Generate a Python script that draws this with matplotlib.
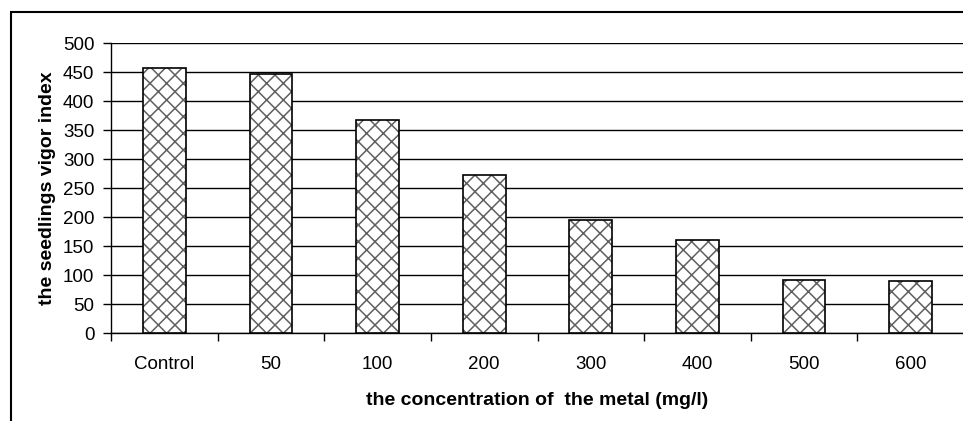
import matplotlib
matplotlib.use("Agg")
import matplotlib.pyplot as plt
from matplotlib.patches import Rectangle
import numpy as np

categories = ["Control", "50", "100", "200", "300", "400", "500", "600"]
values = [457, 446, 367, 272, 195, 161, 92, 90]
yticks = [0, 50, 100, 150, 200, 250, 300, 350, 400, 450, 500]

plt.rcParams['font.family'] = ['Liberation Sans', 'DejaVu Sans']
plt.rcParams['hatch.linewidth'] = 1.1

W, H = 963, 421
fig = plt.figure(figsize=(W / 100, H / 100), dpi=100)
ax = fig.add_axes([111 / W, 1 - 333.3 / H, (964 - 111) / W, (333.3 - 43) / H])

x = np.arange(len(categories))
# hatch layer
ax.bar(x, values, width=0.4, color='white', edgecolor='#606060', hatch='xx',
       linewidth=0, zorder=3)
# outline layer
ax.bar(x, values, width=0.4, fill=False, edgecolor='black', linewidth=1.2, zorder=4)

ax.set_xlim(-0.5, len(categories) - 0.5)
ax.set_ylim(0, 500)
ax.set_yticks(yticks)
ax.set_yticklabels([str(v) for v in yticks], fontsize=13.5)
ax.yaxis.grid(True, color='black', linewidth=1.0, zorder=0)
ax.set_axisbelow(True)

# category boundaries as major ticks, labels at centres as minor ticks
ax.set_xticks(np.arange(len(categories) + 1) - 0.5)
ax.set_xticklabels([])
ax.set_xticks(x, minor=True)
ax.set_xticklabels(categories, minor=True, fontsize=13.5)
ax.tick_params(axis='x', which='major', direction='out', length=6, width=1, color='black')
ax.tick_params(axis='x', which='minor', length=0, pad=16)
ax.tick_params(axis='y', direction='out', length=6, width=1, pad=6)

for s in ['top', 'right']:
    ax.spines[s].set_visible(False)
ax.spines['left'].set_linewidth(1.0)
ax.spines['bottom'].set_linewidth(1.0)

ax.set_xlabel("the concentration of  the metal (mg/l)", fontsize=14, fontweight='bold',
              labelpad=14)
ax.set_ylabel("the seedlings vigor index", fontsize=14, fontweight='bold', labelpad=5)

# outer chart frame
fig.patches.append(Rectangle((11 / W, -0.2), 1.2, 1.2 - 12 / H,
                             transform=fig.transFigure, fill=False,
                             edgecolor='black', linewidth=1.5))

fig.savefig("out.png", dpi=100)
